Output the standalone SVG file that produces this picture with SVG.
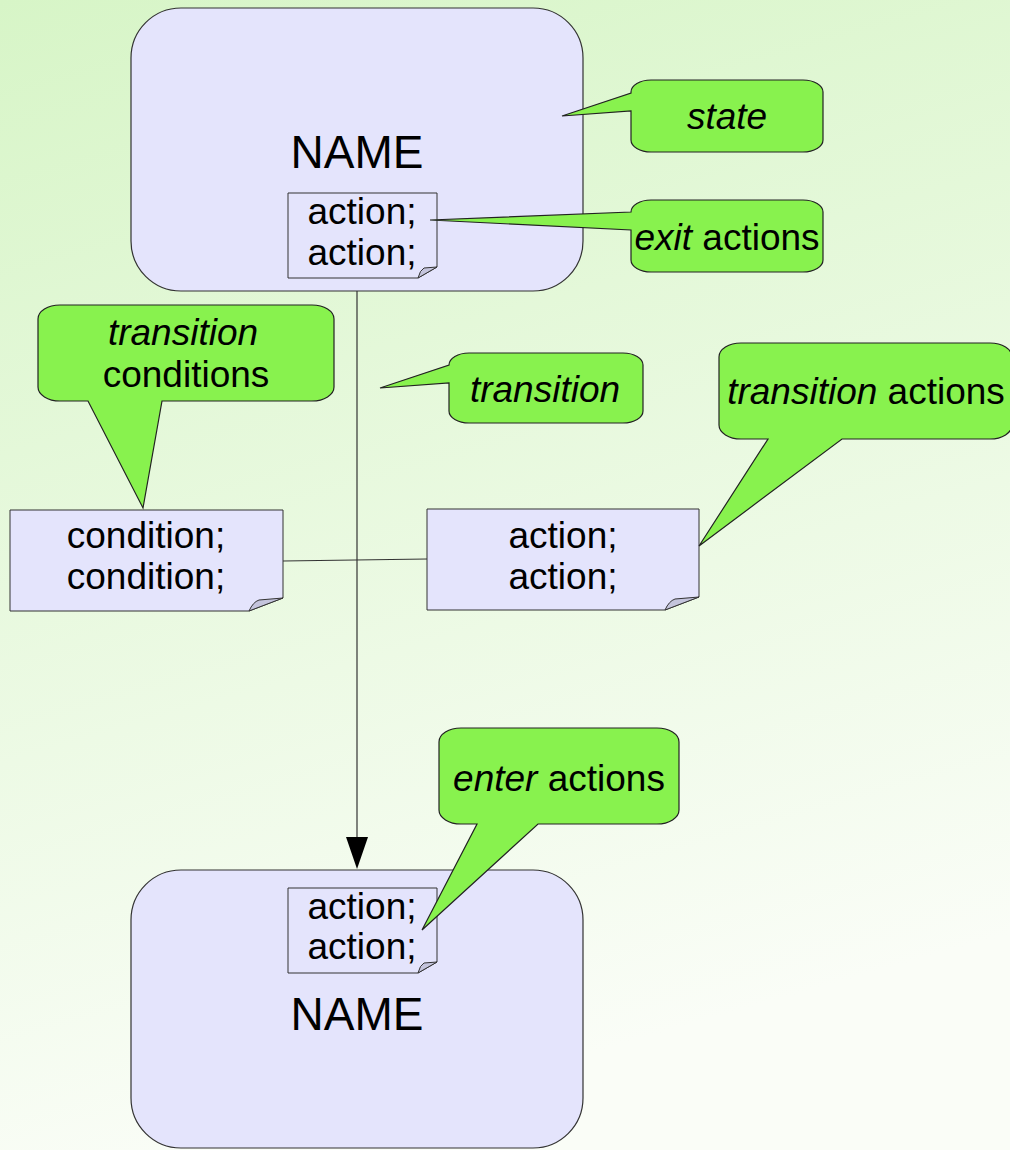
<svg xmlns="http://www.w3.org/2000/svg" width="1010" height="1150" viewBox="0 0 1010 1150">
<defs>
<linearGradient id="bg" x1="0" y1="0" x2="0.25" y2="1">
<stop offset="0" stop-color="#d7f5c7"/>
<stop offset="1" stop-color="#fafdf7"/>
</linearGradient>
<style>
.state{fill:#e4e4fc;stroke:#333;stroke-width:1.2}
.note{fill:#e4e4fc;stroke:#333;stroke-width:1}
.fold{fill:#c4c4dc;stroke:#333;stroke-width:1}
.call{fill:#88f24e;stroke:#222;stroke-width:1.2}
text{font-family:"Liberation Sans",Arial,sans-serif;fill:#000;text-anchor:middle}
.t{font-size:37px}
.big{font-size:46px}
.i{font-style:italic}
.conn{stroke:#333;stroke-width:1.2;fill:none}
</style>
</defs>
<rect width="1010" height="1150" fill="url(#bg)"/>

<g id="state1">
<rect class="state" x="131" y="8" width="452" height="283" rx="50" ry="50"/>
<text class="big" x="357" y="168">NAME</text>
</g>
<g id="state2">
<rect class="state" x="131" y="870" width="452" height="278" rx="50" ry="50"/>
<text class="big" x="357" y="1030">NAME</text>
</g>

<g id="connectors">
<line class="conn" x1="357" y1="291" x2="357" y2="840"/>
<polygon points="346,837 368,837 357,869" fill="#000"/>
<line class="conn" x1="283" y1="561" x2="427" y2="559"/>
</g>

<g id="exitNote">
<path class="note" d="M288,193 H437 V267 L418,278 H288 Z"/>
<path class="fold" d="M437,267 L418,278 Q420,270 424,268 Z"/>
<text class="t" x="362" y="224">action;</text>
<text class="t" x="362" y="265">action;</text>
</g>

<g id="enterNote">
<path class="note" d="M288,888 H437 V962 L418,973 H288 Z"/>
<path class="fold" d="M437,962 L418,973 Q420,965 424,963 Z"/>
<text class="t" x="362" y="919">action;</text>
<text class="t" x="362" y="959">action;</text>
</g>

<g id="conditionNote">
<path class="note" d="M10,510 H283 V598 L249,611 H10 Z"/>
<path class="fold" d="M283,598 L249,611 Q253,602 259,600 Z"/>
<text class="t" x="146" y="548">condition;</text>
<text class="t" x="146" y="589">condition;</text>
</g>

<g id="transitionActionNote">
<path class="note" d="M427,509 H699 V597 L665,610 H427 Z"/>
<path class="fold" d="M699,597 L665,610 Q669,601 675,599 Z"/>
<text class="t" x="563" y="548">action;</text>
<text class="t" x="563" y="589">action;</text>
</g>

<g id="stateCallout">
<path class="call" d="M651,80 H803 A20 12 0 0 1 823,92 V140 A20 12 0 0 1 803,152 H651 A20 12 0 0 1 631,140 V111 L562,116 L631,93 V92 A20 12 0 0 1 651,80 Z"/>
<text class="t i" x="727" y="129">state</text>
</g>

<g id="exitCallout">
<path class="call" d="M651,200 H803 A20 12 0 0 1 823,212 V260 A20 12 0 0 1 803,272 H651 A20 12 0 0 1 631,260 V230 L430,220 L631,212 A20 12 0 0 1 651,200 Z"/>
<text class="t" x="727" y="250"><tspan class="i">exit</tspan> actions</text>
</g>

<g id="conditionsCallout">
<path class="call" d="M60,305 H312 A22 14 0 0 1 334,319 V387 A22 14 0 0 1 312,401 H162 L143,508 L88,401 H60 A22 14 0 0 1 38,387 V319 A22 14 0 0 1 60,305 Z"/>
<text class="t i" x="183" y="345">transition</text>
<text class="t" x="186" y="387">conditions</text>
</g>

<g id="transitionCallout">
<path class="call" d="M469,353 H623 A20 12 0 0 1 643,365 V411 A20 12 0 0 1 623,423 H469 A20 12 0 0 1 449,411 V383 L380,388 L449,365 A20 12 0 0 1 469,353 Z"/>
<text class="t i" x="545" y="402">transition</text>
</g>

<g id="transitionActionsCallout">
<path class="call" d="M741,343 H990 A22 14 0 0 1 1012,357 V425 A22 14 0 0 1 990,439 H842 L699,546 L768,439 H741 A22 14 0 0 1 719,425 V357 A22 14 0 0 1 741,343 Z"/>
<text class="t" x="866" y="404"><tspan class="i">transition</tspan> actions</text>
</g>

<g id="enterCallout">
<path class="call" d="M461,728 H657 A22 14 0 0 1 679,742 V810 A22 14 0 0 1 657,824 H538 L422,930 L477,824 H461 A22 14 0 0 1 439,810 V742 A22 14 0 0 1 461,728 Z"/>
<text class="t" x="559" y="791"><tspan class="i">enter</tspan> actions</text>
</g>
</svg>
